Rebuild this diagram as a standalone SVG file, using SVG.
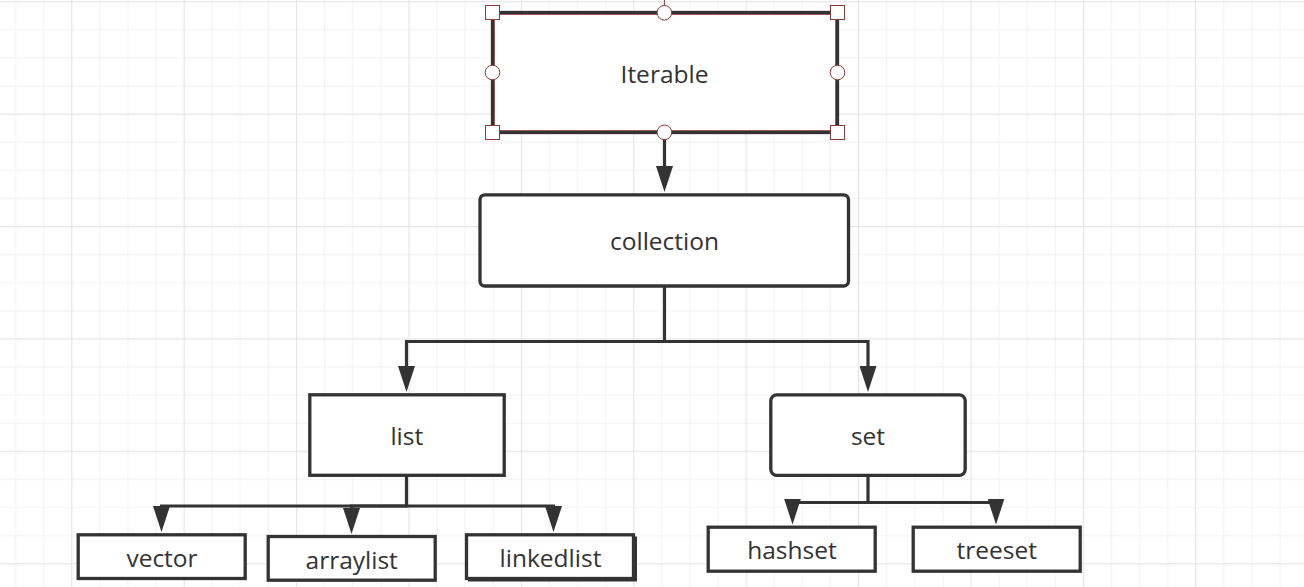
<svg xmlns="http://www.w3.org/2000/svg" width="1304" height="587" viewBox="0 0 1304 587">
  <style>
    .node { fill: #ffffff; stroke: #333333; stroke-width: 3.3; }
    .label { font-family: "Open Sans", "Noto Sans", "Liberation Sans", sans-serif; font-size: 24.5px; fill: #333333; text-anchor: middle; }
    .conn { fill: none; stroke: #333333; stroke-width: 3.2; stroke-linejoin: miter; }
    .handle { fill: #ffffff; stroke: #8b3a3a; stroke-width: 1; }
  </style>
  <defs>
    <pattern id="grid" x="71.2" y="1.2" width="112.4" height="112.4" patternUnits="userSpaceOnUse">
      <rect x="28.1" y="0" width="1" height="112.4" fill="#f1f1f1"/>
      <rect x="56.2" y="0" width="1" height="112.4" fill="#f1f1f1"/>
      <rect x="84.3" y="0" width="1" height="112.4" fill="#f1f1f1"/>
      <rect x="0" y="28.1" width="112.4" height="1" fill="#f1f1f1"/>
      <rect x="0" y="56.2" width="112.4" height="1" fill="#f1f1f1"/>
      <rect x="0" y="84.3" width="112.4" height="1" fill="#f1f1f1"/>
      <rect x="0" y="0" width="1.2" height="112.4" fill="#e6e6e6"/>
      <rect x="0" y="0" width="112.4" height="1.2" fill="#e6e6e6"/>
    </pattern>
    <marker id="arrow" viewBox="0 0 26 17" refX="16" refY="8.5" markerWidth="26" markerHeight="17" markerUnits="userSpaceOnUse" orient="auto">
      <path d="M0,0 L26,8.5 L0,17 Z" fill="#333333"/>
    </marker>
  </defs>

  <rect x="0" y="0" width="1304" height="587" fill="#ffffff"/>
  <rect x="0" y="0" width="1304" height="587" fill="url(#grid)"/>

  <g id="connectors">
    <path class="conn" d="M664.5,134 V182" marker-end="url(#arrow)"/>
    <path class="conn" d="M664.5,287 V341.5 H406.5 V382" marker-end="url(#arrow)"/>
    <path class="conn" d="M664.5,341.5 H868 V382" marker-end="url(#arrow)"/>
    <path class="conn" d="M406.5,476 V506 H161.5 V522" marker-end="url(#arrow)"/>
    <path class="conn" d="M406.5,506 H351.5 V524" marker-end="url(#arrow)"/>
    <path class="conn" d="M406.5,506 H553.5 V522" marker-end="url(#arrow)"/>
    <path class="conn" d="M868,476 V502.5 H792.5 V514.5" marker-end="url(#arrow)"/>
    <path class="conn" d="M868,502.5 H996 V514.5" marker-end="url(#arrow)"/>
  </g>

  <g id="node-iterable">
    <rect class="node" x="492.5" y="12.5" width="345" height="120"/>
    <rect x="494.5" y="14.5" width="341" height="116" fill="none" stroke="#8b3a3a" stroke-width="0.8"/>
    <line x1="664.4" y1="0" x2="664.4" y2="6" stroke="#8b3a3a" stroke-width="1"/>
    <rect class="handle" x="485.5" y="5.5" width="14" height="14"/>
    <rect class="handle" x="830.5" y="5.5" width="14" height="14"/>
    <rect class="handle" x="485.5" y="125.5" width="14" height="14"/>
    <rect class="handle" x="830.5" y="125.5" width="14" height="14"/>
    <circle class="handle" cx="664.4" cy="12.8" r="7.3"/>
    <circle class="handle" cx="664.4" cy="132.3" r="7.3"/>
    <circle class="handle" cx="492.5" cy="72.5" r="7.3"/>
    <circle class="handle" cx="837.5" cy="72.5" r="7.3"/>
    <text class="label" x="664.5" y="82.5">Iterable</text>
  </g>

  <g id="node-collection">
    <rect class="node" x="480" y="194.8" width="368.5" height="91.2" rx="5" ry="5"/>
    <text class="label" x="664.5" y="250">collection</text>
  </g>

  <g id="node-list">
    <rect class="node" x="309.8" y="394.8" width="194.4" height="80.5"/>
    <text class="label" x="406.8" y="445">list</text>
  </g>

  <g id="node-set">
    <rect class="node" x="770.8" y="394.8" width="194.4" height="80.5" rx="6" ry="6"/>
    <text class="label" x="868" y="445">set</text>
  </g>

  <g id="node-vector">
    <rect class="node" x="78.2" y="534.8" width="167" height="43.7"/>
    <text class="label" x="162" y="566.7">vector</text>
  </g>

  <g id="node-arraylist">
    <rect class="node" x="268.2" y="536.5" width="167" height="43.7"/>
    <text class="label" x="351.7" y="569">arraylist</text>
  </g>

  <g id="node-linkedlist">
    <rect x="469" y="537.5" width="167" height="43" fill="#333333" stroke="#333333" stroke-width="2"/>
    <rect class="node" x="466.5" y="534.8" width="167" height="43.7"/>
    <text class="label" x="550.5" y="566.7">linkedlist</text>
  </g>

  <g id="node-hashset">
    <rect class="node" x="708.2" y="527.2" width="167" height="44"/>
    <text class="label" x="792" y="558.5">hashset</text>
  </g>

  <g id="node-treeset">
    <rect class="node" x="913.2" y="527.2" width="167" height="44"/>
    <text class="label" x="996.7" y="558.5">treeset</text>
  </g>
</svg>
